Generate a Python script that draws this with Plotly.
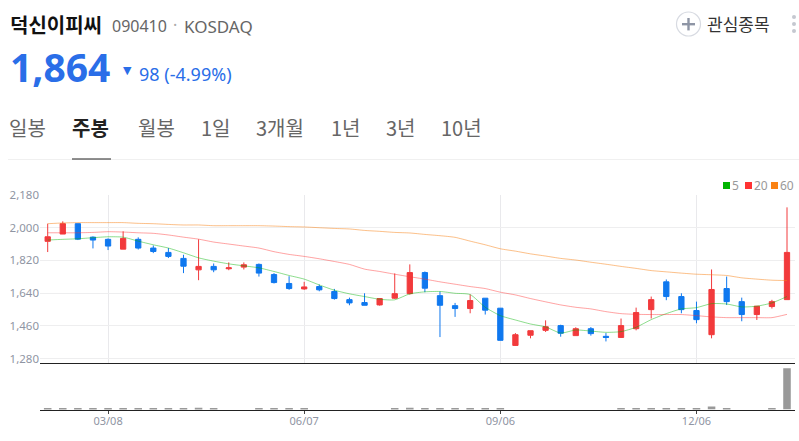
import pandas as pd
import plotly.graph_objects as go

# weekly bars
weeks = pd.date_range('2021-02-08', periods=50, freq='7D').strftime('%Y-%m-%d').tolist()

opens = [1925,1965,2022,1948,1936,1882,1936,1888,1864,1831,1768,1787,1774,1783,1798,
         1742,1693,1663,1676,1649,1604,1588,1575,1612,1637,1753,1626,1571,1555,1612,1557,1352,1408,
         1435,1461,1406,1444,1402,1396,1444,1549,1702,1621,1544,1411,1665,1593,1522,1566,1604]
highs = [2022,2035,2022,1952,1941,1980,1947,1902,1888,1851,1936,1803,1809,1809,1803,
         1750,1733,1702,1687,1663,1615,1639,1610,1748,1798,1759,1648,1586,1632,1612,1557,1420,1433,
         1490,1466,1452,1453,1420,1500,1560,1621,1715,1639,1593,1770,1731,1615,1568,1603,2112]
lows = [1866,1965,1932,1886,1877,1882,1880,1860,1833,1750,1711,1755,1766,1770,1731,
        1693,1658,1658,1650,1604,1573,1573,1571,1608,1632,1645,1398,1509,1529,1522,1380,1349,1391,
        1426,1400,1406,1406,1374,1393,1435,1500,1601,1529,1474,1391,1575,1485,1492,1555,1604]
closes = [1950,2022,1937,1932,1899,1941,1888,1869,1842,1788,1787,1768,1779,1796,1750,
          1698,1665,1674,1658,1610,1586,1573,1610,1637,1753,1667,1573,1555,1599,1546,1380,1411,1433,
          1455,1419,1444,1417,1396,1461,1533,1604,1621,1549,1494,1660,1593,1522,1568,1593,1864]

ma5 = [1932,1936,1939,1945,1950,1948,1926,1906,1888,1862,1834,1816,1801,1790,1779,
       1759,1737,1717,1685,1656,1636,1621,1606,1603,1636,1647,1649,1639,1632,1562,1516,1492,1470,
       1454,1420,1437,1431,1424,1428,1452,1494,1527,1553,1560,1582,1580,1564,1568,1586,1621]
ma20 = [1972,1972,1972,1974,1978,1976,1972,1969,1960,1948,1937,1921,1910,1899,1888,
        1868,1853,1842,1829,1814,1798,1772,1759,1744,1730,1717,1702,1689,1676,1665,1645,1630,1610,
        1592,1575,1562,1553,1538,1527,1523,1522,1522,1522,1516,1509,1505,1505,1505,1505,1523]
ma60 = [2022,2026,2028,2028,2028,2028,2024,2022,2018,2015,2015,2011,2011,2011,2011,
        2009,2006,2004,2000,1996,1993,1985,1980,1974,1971,1963,1956,1947,1926,1906,1884,1871,1856,
        1844,1831,1822,1810,1799,1787,1776,1764,1757,1750,1744,1741,1737,1724,1717,1711,1709]

volume = [2.4,2.4,2.4,2.4,2.4,2.4,2.4,2.4,2.4,2.4,4,2.4,0,0,2.4,
          2.4,2.4,2.4,0,0,0,0,0,2.4,4,2.4,3,2.4,2.4,2.4,2.4,0,0,
          0,0,0,0,0,2.4,2.4,3,3,2.4,2.4,7,2.4,0,0,2.4,100]

price_ticks = [2180,2000,1820,1640,1460,1280]
price_labels = ['2,180','2,000','1,820','1,640','1,460','1,280']
date_ticks = [weeks[4], weeks[17], weeks[30], weeks[43]]
date_labels = ['03/08','06/07','09/06','12/06']

W, H = 799, 441
KR = 'Noto Sans CJK KR'
BLUE = '#2a6ee8'
RED = '#f23a3c'
CANDLE_BLUE = '#0f78ef'

fig = go.Figure()

fig.add_trace(go.Candlestick(x=weeks, open=opens, high=highs, low=lows, close=closes,
                             xaxis='x2', yaxis='y',
                             increasing=dict(line=dict(color=RED, width=1), fillcolor=RED),
                             decreasing=dict(line=dict(color=CANDLE_BLUE, width=1), fillcolor=CANDLE_BLUE),
                             hoverinfo='skip', showlegend=False))

for vals, col in [(ma5, 'rgba(0,180,0,0.45)'), (ma20, 'rgba(255,50,50,0.45)'), (ma60, 'rgba(250,130,20,0.5)')]:
    fig.add_trace(go.Scatter(x=weeks, y=vals, mode='lines', xaxis='x2', yaxis='y',
                             line=dict(color=col, width=1, shape='spline', smoothing=0.6),
                             showlegend=False))

fig.add_trace(go.Bar(x=weeks, y=volume, xaxis='x', yaxis='y2', width=0.5,
                     marker=dict(color='#999999', line_width=0), showlegend=False))


def px(x):
    return x / W


def py(y):
    return 1 - y / H


def label(text, x, y, size, color='#666666', font=KR, anchor='left', bold=False):
    if bold:
        text = '<b>%s</b>' % text
    fig.add_annotation(text=text, x=px(x), y=py(y), xref='paper', yref='paper', showarrow=False,
                       xanchor=anchor, yanchor='middle', font=dict(size=size, color=color, family=font),
                       borderpad=0, borderwidth=0)


def box(x0, y0, x1, y1, color):
    fig.add_shape(type='rect', xref='paper', yref='paper', x0=px(x0), x1=px(x1), y0=py(y0), y1=py(y1),
                  fillcolor=color, line_width=0)


# header
label('덕신이피씨', 10, 25, 20, '#111111', bold=True)
label('090410', 112, 26, 16, '#666666', 'Noto Sans')
label('·', 173, 25, 16, '#aaaaaa', 'Noto Sans')
label('KOSDAQ', 184, 26, 17, '#666666', 'Noto Sans')
label('1,864', 10, 67, 39, BLUE, 'Noto Sans', bold=True)
label('▼', 123, 70, 11, BLUE, 'DejaVu Sans')
label('98 (-4.99%)', 139, 74, 18, BLUE, 'Noto Sans')

# tabs
tabs = ['일봉','주봉','월봉','1일','3개월','1년','3년','10년']
tab_x = [9,72,138,201,256,331,386,441]
for name, x in zip(tabs, tab_x):
    active = name == '주봉'
    label(name, x, 127, 20, '#222222' if active else '#666666', bold=active)
box(8, 159, W, 160, '#f0f0f0')
box(72, 158.5, 111, 159.5, '#222222')

# watchlist button
fig.add_shape(type='circle', xref='paper', yref='paper', x0=px(676.5), x1=px(700.5), y0=py(12), y1=py(36),
              line=dict(color='#d8dbe2', width=1.2))
box(682, 23, 695, 25.4, '#8e95a5')
box(687.3, 18, 689.7, 30.4, '#8e95a5')
label('관심종목', 707, 24, 17, '#333333')
for y in [17, 24, 31]:
    fig.add_shape(type='circle', xref='paper', yref='paper', x0=px(792), x1=px(796), y0=py(y - 2), y1=py(y + 2),
                  fillcolor='#c5c8d0', line_width=0)

# legend
for x, col, txt in [(723, '#00b400', '5'), (745, '#ff3333', '20'), (771, '#fa8214', '60')]:
    box(x, 182, x + 7, 189, col)
    label(txt, x + 9, 185, 12, '#999999', 'Noto Sans')

fig.update_layout(
    width=W, height=H, margin=dict(l=0, r=0, t=0, b=0, autoexpand=False),
    paper_bgcolor='white', plot_bgcolor='white', boxgap=0.5, showlegend=False,
    xaxis=dict(type='category', domain=[px(40), px(795)], anchor='y2', categoryorder='array', categoryarray=weeks,
               range=[-0.51, 49.53], tickmode='array', tickvals=date_ticks, ticktext=date_labels,
               showgrid=False, showline=True, linecolor='#222222', linewidth=1, ticks='outside', ticklen=3,
               ticklabelstandoff=-2, tickcolor='#444444',
               tickfont=dict(size=11, color='#8f95a3', family='Noto Sans'), rangeslider=dict(visible=False)),
    xaxis2=dict(type='category', domain=[px(40), px(795)], anchor='y', categoryorder='array', categoryarray=weeks,
                range=[-0.51, 49.53], tickmode='array', tickvals=date_ticks, ticktext=['', '', '', ''],
                showgrid=True, gridcolor='#e9e9ec', gridwidth=1, showline=True, linecolor='#222222', linewidth=1,
                ticks='', rangeslider=dict(visible=False), zeroline=False),
    yaxis=dict(domain=[py(362.5), py(195)], range=[1258, 2180], anchor='x2', tickmode='array', tickvals=price_ticks,
               ticktext=price_labels, showgrid=True, gridcolor='#eeeeef', gridwidth=1, zeroline=False,
               ticks='', showline=False, tickfont=dict(size=11.5, color='#8f95a3', family='Noto Sans')),
    yaxis2=dict(domain=[py(409.5), py(364)], range=[0, 110], anchor='x', showticklabels=False, showgrid=False,
                zeroline=False, ticks=''),
)

fig.write_html('out.html', config=dict(displayModeBar=False),
               post_script="document.body.style.margin='0';document.body.style.overflow='hidden';")
